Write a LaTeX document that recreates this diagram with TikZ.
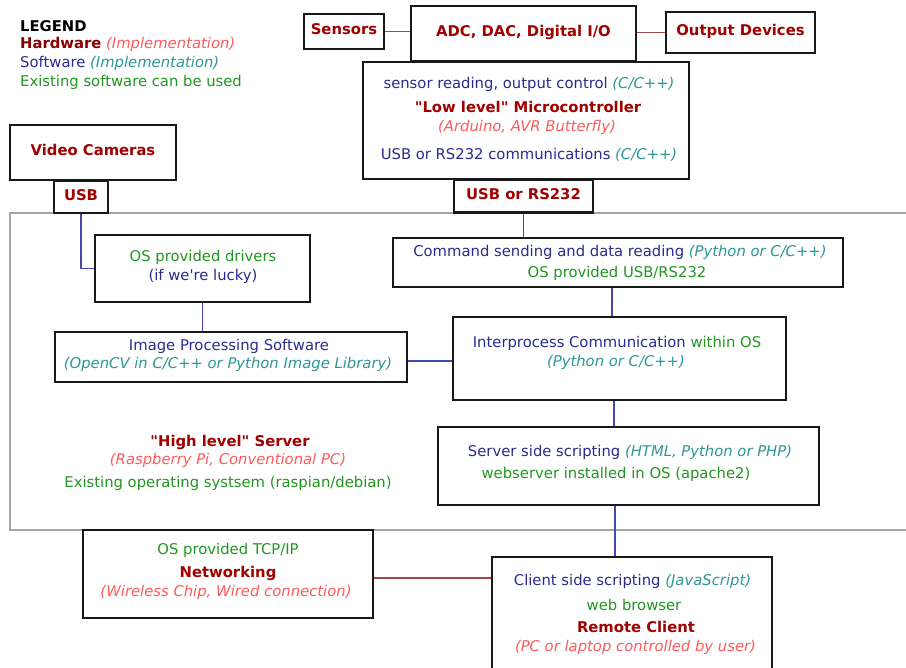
\documentclass[tikz,border=0pt]{standalone}
\usepackage{fontspec}
\setmainfont{DejaVu Sans}
\definecolor{hw}{HTML}{A00000}
\definecolor{hwimpl}{HTML}{FF5A5A}
\definecolor{sw}{HTML}{2B2B8E}
\definecolor{swimpl}{HTML}{2E9696}
\definecolor{grn}{HTML}{219621}
\definecolor{cblue}{HTML}{4848B0}
\definecolor{cred}{HTML}{A04848}
\begin{document}
\begin{tikzpicture}[x=1pt,y=-1pt,
  every node/.style={font=\fontsize{14.8}{17}\selectfont},
  box/.style={draw=black!90, line width=2.1pt, fill=white, inner sep=0pt, text height=10pt, text depth=3.5pt},
  txt/.style={inner sep=0pt, text height=10pt, text depth=3.5pt, yshift=-1pt},
  bl/.style={draw=cblue, line width=1.2pt},
  rl/.style={draw=cred, line width=1.2pt}]
\useasboundingbox (0,0) rectangle (906,668);
\draw[gray!70, line width=1.5pt] (10,213) rectangle (920,530);

\coordinate (k1) at (612,0);
\coordinate (k2) at (614,0);
\coordinate (k4) at (615,0);
\coordinate (k3) at (0,361);
\coordinate (k5) at (0,578);

% boxes
\node[box, minimum width=80pt, minimum height=35pt] (sens) at (344,31.5) {\textcolor{hw}{\bfseries Sensors}};
\node[box, minimum width=225pt, minimum height=55pt] (adc) at (523.5,33.5) {\textcolor{hw}{\bfseries ADC, DAC, Digital I/O}};
\node[box, minimum width=149pt, minimum height=41pt] (out) at (740.5,32.5) {\textcolor{hw}{\bfseries Output Devices}};
\node[box, minimum width=326pt, minimum height=117pt] (mcu) at (526,120.5) {};
\node[box, minimum width=139pt, minimum height=33pt] (rs) at (523.5,196) {\textcolor{hw}{\bfseries USB or RS232}};
\node[box, minimum width=166pt, minimum height=55pt] (cam) at (93,152.5) {\textcolor{hw}{\bfseries Video Cameras}};
\node[box, minimum width=54pt, minimum height=32pt] (usb) at (81,197) {\textcolor{hw}{\bfseries USB}};
\node[box, minimum width=215pt, minimum height=67pt] (drv) at (202.5,268.5) {};
\node[box, minimum width=450pt, minimum height=49pt] (cmd) at (618,262.5) {};
\node[box, minimum width=333pt, minimum height=83pt] (ipc) at (619.5,358.5) {};
\node[box, minimum width=352pt, minimum height=50pt] (img) at (231,357) {};
\node[box, minimum width=381pt, minimum height=78pt] (srv) at (628.5,466) {};
\node[box, minimum width=280pt, minimum height=120pt] (cli) at (632,617) {};
\node[box, minimum width=290pt, minimum height=88pt] (net) at (228,574) {};

% connectors
\draw[rl] (sens.east) -- (sens.east -| adc.west);
\draw[rl] (adc.east |- out.west) -- (out.west);
\draw[bl] (usb.south) -- (usb.south |- drv.west) -- (drv.west);
\draw[bl] (rs.south) -- (rs.south |- cmd.north);
\draw[bl] (drv.south) -- (drv.south |- img.north);
\draw[bl] (k1 |- cmd.south) -- (k1 |- ipc.north);
\draw[bl] (k3 -| img.east) -- (k3 -| ipc.west);
\draw[bl] (k2 |- ipc.south) -- (k2 |- srv.north);
\draw[bl] (k4 |- srv.south) -- (k4 |- cli.north);
\draw[rl] (k5 -| net.east) -- (k5 -| cli.west);

% legend
\node[txt, anchor=west] (lg1) at (20,27) {\bfseries LEGEND};
\node[txt, anchor=west] (lg2) at (20,44) {\textcolor{hw!85!black}{\bfseries Hardware} \textcolor{hwimpl}{\itshape (Implementation)}};
\node[txt, anchor=west] (lg3) at (20,63) {\textcolor{sw}{Software} \textcolor{swimpl}{\itshape (Implementation)}};
\node[txt, anchor=west] (lg4) at (20,82) {\textcolor{grn}{Existing software can be used}};

% microcontroller
\node[txt] (m1) at (529,84) {\textcolor{sw}{sensor reading, output control} \textcolor{swimpl}{\itshape (C/C++)}};
\node[txt] (m2) at (528,108) {\textcolor{hw}{\bfseries \textquotedbl Low level\textquotedbl\ Microcontroller}};
\node[txt] (m3) at (527,127) {\textcolor{hwimpl}{\itshape (Arduino, AVR Butterfly)}};
\node[txt] (m4) at (529,155) {\textcolor{sw}{USB or RS232 communications} \textcolor{swimpl}{\itshape (C/C++)}};

% drivers
\node[txt] (d1) at (203,257) {\textcolor{grn}{OS provided drivers}};
\node[txt] (d2) at (203,276) {\textcolor{sw}{(if we\textquotesingle re lucky)}};

% command
\node[txt] (c1) at (620,252) {\textcolor{sw}{Command sending and data reading} \textcolor{swimpl}{\itshape (Python or C/C++)}};
\node[txt] (c2) at (617,273) {\textcolor{grn}{OS provided USB/RS232}};

% ipc
\node[txt] (i1) at (617,343) {\textcolor{sw}{Interprocess Communication} \textcolor{grn}{within OS}};
\node[txt] (i2) at (616,362) {\textcolor{swimpl}{\itshape (Python or C/C++)}};

% image
\node[txt] (g1) at (229,346) {\textcolor{sw}{Image Processing Software}};
\node[txt] (g2) at (228,364) {\textcolor{swimpl}{\itshape (OpenCV in C/C++ or Python Image Library)}};

% high level server
\node[txt] (hs1) at (230,442) {\textcolor{hw}{\bfseries \textquotedbl High level\textquotedbl\ Server}};
\node[txt] (hs2) at (228,460) {\textcolor{hwimpl}{\itshape (Raspberry Pi, Conventional PC)}};
\node[txt] (hs3) at (228,483) {\textcolor{grn}{Existing operating systsem (raspian/debian)}};

% server
\node[txt] (s1) at (630,452) {\textcolor{sw}{Server side scripting} \textcolor{swimpl}{\itshape (HTML, Python or PHP)}};
\node[txt] (s2) at (616,474) {\textcolor{grn}{webserver installed in OS (apache2)}};

% client
\node[txt] (l1) at (632.5,581) {\textcolor{sw}{Client side scripting} \textcolor{swimpl}{\itshape (JavaScript)}};
\node[txt] (l2) at (634,606) {\textcolor{grn}{web browser}};
\node[txt] (l3) at (636,628) {\textcolor{hw}{\bfseries Remote Client}};
\node[txt] (l4) at (635.5,647) {\textcolor{hwimpl}{\itshape (PC or laptop controlled by user)}};

% networking
\node[txt] (n1) at (228,550) {\textcolor{grn}{OS provided TCP/IP}};
\node[txt] (n2) at (228,573) {\textcolor{hw}{\bfseries Networking}};
\node[txt] (n3) at (226,592) {\textcolor{hwimpl}{\itshape (Wireless Chip, Wired connection)}};
\end{tikzpicture}
\end{document}
